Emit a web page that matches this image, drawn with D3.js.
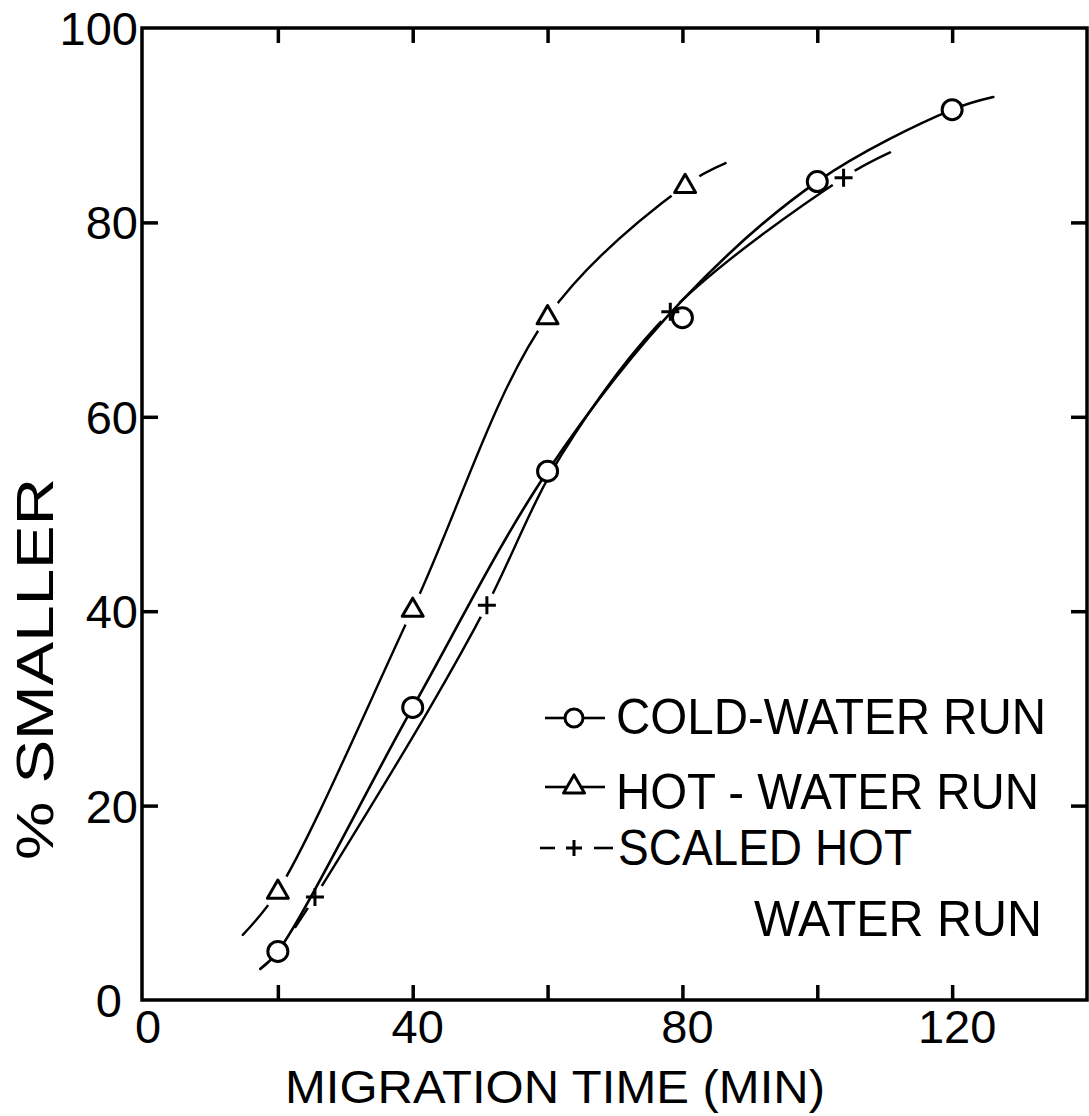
<!DOCTYPE html>
<html>
<head>
<meta charset="utf-8">
<script src="https://cdn.jsdelivr.net/npm/d3@7"></script>
<style>
  body { margin: 0; background: #fff; }
  svg { display: block; }
  text { font-family: "Liberation Sans", Arial, sans-serif; fill: #000; }
</style>
</head>
<body>
<div id="chart"></div>
<script>
// measured points (minutes, % smaller)
var coldX = [20, 40, 60, 80, 100, 120];
var coldY = [5, 30.1, 54.4, 70.2, 84.2, 91.6];
var hotX = [20, 40, 60, 80.4];
var hotY = [11.2, 40.2, 70.3, 83.8];
var scaledX = [25.5, 51, 78.2, 103.9];
var scaledY = [10.6, 40.6, 70.8, 84.6];

// hand drawn curves
var coldCurveX = [17.4, 20, 40, 60, 80, 100, 120, 126.1];
var coldCurveY = [3.2, 5, 30.1, 54.4, 72, 84.2, 91.6, 92.9];
var hotCurveX = [14.8, 20, 40, 60, 80.4, 86.4];
var hotCurveY = [6.7, 11.2, 40.2, 70.3, 83.8, 86.1];
var scaledCurveX = [22.6, 25.5, 42.5, 51, 62, 78.2, 103.9, 110.8];
var scaledCurveY = [7.5, 10.6, 30, 40.6, 56, 70.8, 84.6, 87.2];

var xTicks = [20, 40, 60, 80, 100, 120];
var xLabels = [0, 40, 80, 120];
var yTicks = [20, 40, 60, 80];
var yLabels = [0, 20, 40, 60, 80, 100];

var legendNames = ["COLD-WATER RUN", "HOT - WATER RUN", "SCALED HOT", "WATER RUN"];

var width = 1089, height = 1116;
var pLeft = 142, pRight = 1087, pTop = 28, pBottom = 1000;

var svg = d3.select("#chart").append("svg")
    .attr("width", width).attr("height", height);

var x = d3.scaleLinear().domain([0, 140]).range([pLeft + 1, pRight]);
var y = d3.scaleLinear().domain([0, 100]).range([pBottom, pTop]);

function zip(xs, ys) { return xs.map(function (v, i) { return [v, ys[i]]; }); }

var line = d3.line()
    .x(function (d) { return x(d[0]); })
    .y(function (d) { return y(d[1]); })
    .curve(d3.curveCatmullRom.alpha(0.5));

// ticks, pointing inward on all four sides
function tickAxis(axis, tx, ty) {
    var g = svg.append("g").attr("transform", "translate(" + tx + "," + ty + ")").call(axis);
    g.select(".domain").remove();
    g.selectAll(".tick line").attr("stroke", "#000").attr("stroke-width", 3.5);
    g.selectAll(".tick text").remove();
}
tickAxis(d3.axisBottom(x).tickValues(xTicks).tickSize(-15), 0, pBottom);
tickAxis(d3.axisTop(x).tickValues(xTicks).tickSize(-15), 0, pTop);
tickAxis(d3.axisLeft(y).tickValues(yTicks).tickSize(-16), pLeft, 0);
tickAxis(d3.axisRight(y).tickValues(yTicks).tickSize(-16), pRight, 0);

svg.append("rect")
    .attr("x", pLeft).attr("y", pTop)
    .attr("width", pRight - pLeft).attr("height", pBottom - pTop)
    .attr("fill", "none").attr("stroke", "#000").attr("stroke-width", 3.5);

// tick labels
svg.selectAll(".xl").data(xLabels).enter().append("text")
    .attr("x", function (d) { return x(d) + 5; })
    .attr("y", 1043)
    .attr("text-anchor", "middle")
    .style("font-size", "47px")
    .text(function (d) { return d; });

svg.selectAll(".yl").data(yLabels).enter().append("text")
    .attr("x", function (d) { return d === 0 ? 122 : 138; })
    .attr("y", function (d) { return y(d) + 17; })
    .attr("text-anchor", "end")
    .style("font-size", "47px")
    .text(function (d) { return d; });

svg.append("text")
    .attr("x", 555).attr("y", 1103)
    .attr("text-anchor", "middle")
    .attr("textLength", 540).attr("lengthAdjust", "spacingAndGlyphs")
    .style("font-size", "46px")
    .text("MIGRATION TIME (MIN)");

svg.append("text")
    .attr("transform", "translate(53,669) rotate(-90)")
    .attr("text-anchor", "middle")
    .attr("textLength", 382).attr("lengthAdjust", "spacingAndGlyphs")
    .style("font-size", "52px")
    .text("% SMALLER");

// curves, each broken around its own markers
var series = [
    { id: "cold", curve: zip(coldCurveX, coldCurveY), pts: zip(coldX, coldY), gap: 10, w: 2.6 },
    { id: "hot", curve: zip(hotCurveX, hotCurveY), pts: zip(hotX, hotY), gap: 17, w: 2.4 },
    { id: "scaled", curve: zip(scaledCurveX, scaledCurveY), pts: zip(scaledX, scaledY), gap: 13, w: 2.4 }
];

var defs = svg.append("defs");
series.forEach(function (s) {
    var m = defs.append("mask").attr("id", "gap-" + s.id)
        .attr("maskUnits", "userSpaceOnUse")
        .attr("x", 0).attr("y", 0).attr("width", width).attr("height", height);
    m.append("rect").attr("width", width).attr("height", height).attr("fill", "#fff");
    m.selectAll("circle").data(s.pts).enter().append("circle")
        .attr("cx", function (d) { return x(d[0]); })
        .attr("cy", function (d) { return y(d[1]); })
        .attr("r", s.gap).attr("fill", "#000");
    svg.append("path")
        .datum(s.curve)
        .attr("d", line)
        .attr("fill", "none")
        .attr("stroke", "#000")
        .attr("stroke-width", s.w)
        .attr("stroke-linecap", "round")
        .attr("mask", "url(#gap-" + s.id + ")");
});

var tri = d3.symbol().type(d3.symbolTriangle).size(190);

function circleMark(g, cx, cy, r) {
    g.append("circle").attr("cx", cx).attr("cy", cy).attr("r", r)
        .attr("fill", "#fff").attr("stroke", "#000").attr("stroke-width", 3);
}
function triMark(g, cx, cy) {
    g.append("path").attr("d", tri)
        .attr("transform", "translate(" + cx + "," + (cy + 1) + ")")
        .attr("fill", "#fff").attr("stroke", "#000").attr("stroke-width", 3)
        .attr("stroke-linejoin", "round");
}
function plusMark(g, cx, cy, h) {
    g.append("path")
        .attr("d", "M" + (cx - h) + "," + cy + "H" + (cx + h) + "M" + cx + "," + (cy - h) + "V" + (cy + h))
        .attr("stroke", "#000").attr("stroke-width", 3).attr("fill", "none");
}

var marks = svg.append("g");
series[0].pts.forEach(function (d) { circleMark(marks, x(d[0]), y(d[1]), 10); });
series[1].pts.forEach(function (d) { triMark(marks, x(d[0]), y(d[1])); });
series[2].pts.forEach(function (d) { plusMark(marks, x(d[0]), y(d[1]), 9); });

// legend
var lg = svg.append("g");
function seg(x1, x2, yy) {
    lg.append("line").attr("x1", x1).attr("x2", x2).attr("y1", yy).attr("y2", yy)
        .attr("stroke", "#000").attr("stroke-width", 2.6);
}
seg(545, 566, 718); seg(582, 605, 718); circleMark(lg, 574, 718, 9);
seg(545, 566, 787); seg(582, 605, 787); triMark(lg, 574, 786);
seg(540, 555, 848); seg(594, 613, 848); plusMark(lg, 574, 848, 8);

var legendPos = [[616, 734, 430], [616, 809, 423], [618, 865, 294], [754, 936, 288]];
legendNames.forEach(function (t, i) {
    lg.append("text")
        .attr("x", legendPos[i][0]).attr("y", legendPos[i][1])
        .attr("textLength", legendPos[i][2]).attr("lengthAdjust", "spacingAndGlyphs")
        .style("font-size", "50px")
        .text(t);
});
</script>
</body>
</html>
